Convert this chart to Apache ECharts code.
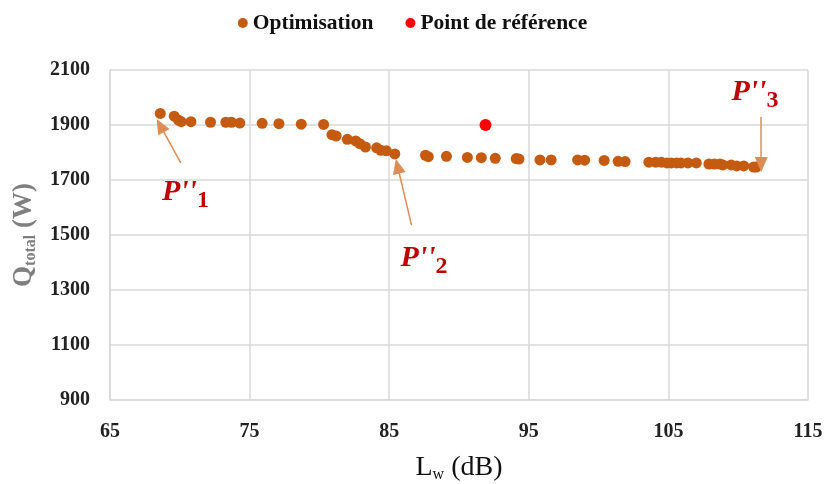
<!DOCTYPE html>
<html><head><meta charset="utf-8">
<script src="https://cdn.jsdelivr.net/npm/echarts@6/dist/echarts.min.js"></script>
<style>html,body{margin:0;padding:0;background:#fff}#c{width:825px;height:484px}</style>
</head><body><div id="c"></div>
<script>
const optLw = [68.6, 69.6, 69.9, 70.1, 70.8, 72.2, 73.3, 73.7, 74.3, 75.9, 77.1, 78.7, 80.3,
  80.9, 81.2, 82.0, 82.6, 82.9, 83.3, 84.1, 84.4, 84.8, 85.4, 87.6, 87.8, 89.1, 90.6, 91.6, 92.6,
  94.1, 94.3, 95.8, 96.6, 98.5, 99.0, 100.4, 101.4, 101.9,
  103.6, 104.1, 104.5, 104.9, 105.2, 105.6, 105.9, 106.4, 107.0, 107.9, 108.3, 108.7, 108.9,
  109.5, 109.9, 110.4, 111.1, 111.3];
const optQ = [1942, 1932, 1918, 1912, 1912, 1910, 1910, 1910, 1907, 1906, 1905, 1903, 1902,
  1865, 1860, 1848, 1842, 1832, 1820, 1817, 1808, 1806, 1795, 1790, 1785, 1786, 1782, 1781, 1779,
  1778, 1776, 1773, 1773, 1773, 1772, 1771, 1768, 1767,
  1765, 1765, 1765, 1762, 1762, 1762, 1762, 1762, 1762, 1758, 1758, 1758, 1755,
  1755, 1751, 1751, 1747, 1747];
const refLw = [91.9];
const refQ = [1900];
const xTicks = [65, 75, 85, 95, 105, 115];
const yTicks = [900, 1100, 1300, 1500, 1700, 1900, 2100];
const annLabels = ["1", "2", "3"];
const annText = [[70.4, 1655], [87.5, 1415], [111.2, 2020]];
const annArrowFrom = [[70.07, 1762], [86.6, 1536], [111.65, 1929]];
const annArrowTo = [[68.6, 1898], [85.6, 1750], [111.65, 1756]];

const serif = "'Liberation Serif', 'DejaVu Serif', serif";
const chart = echarts.init(document.getElementById('c'));
const richLab = {
  p: {fontFamily: serif, fontSize: 30, fontWeight: 'bold', fontStyle: 'italic', color: '#c00000'},
  s: {fontFamily: serif, fontSize: 24, fontWeight: 'bold', color: '#c00000', padding: [17, 0, 0, 0]}
};
chart.setOption({
  animation: false,
  grid: {left: 110, right: 17, top: 70, bottom: 84, containLabel: false, outerBoundsMode: 'none'},
  legend: {
    top: 7, left: 'center', itemGap: 32, itemWidth: 10, itemHeight: 10,
    textStyle: {fontFamily: serif, fontSize: 21.5, fontWeight: 'bold', color: '#111'},
    data: [{name: 'Optimisation', icon: 'circle'}, {name: 'Point de référence', icon: 'circle'}]
  },
  xAxis: {
    type: 'value', min: xTicks[0], max: xTicks[xTicks.length - 1], interval: 10,
    name: '{a|L}{s|w}{a| (dB)}', nameLocation: 'middle', nameGap: 53,
    nameTextStyle: {rich: {
      a: {fontFamily: serif, fontSize: 28, color: '#111'},
      s: {fontFamily: serif, fontSize: 16, color: '#111', padding: [14, 0, 0, 0]}
    }},
    axisLine: {lineStyle: {color: '#d9d9d9', width: 1.5}},
    axisTick: {show: false},
    splitLine: {lineStyle: {color: '#d9d9d9', width: 1.5}},
    axisLabel: {fontFamily: serif, fontSize: 20, fontWeight: 'bold', color: '#222', margin: 22}
  },
  yAxis: {
    type: 'value', min: yTicks[0], max: yTicks[yTicks.length - 1], interval: 200,
    name: '{a|Q}{s|total}{a| (W)}', nameLocation: 'middle', nameGap: 70,
    nameTextStyle: {rich: {
      a: {fontFamily: serif, fontSize: 27, fontWeight: 'bold', color: '#7f7f7f'},
      s: {fontFamily: serif, fontSize: 16, fontWeight: 'bold', color: '#7f7f7f', padding: [14, 0, 0, 0]}
    }},
    axisLine: {show: true, lineStyle: {color: '#d9d9d9', width: 1.5}},
    axisTick: {show: false},
    splitLine: {lineStyle: {color: '#d9d9d9', width: 1.5}},
    axisLabel: {fontFamily: serif, fontSize: 20, fontWeight: 'bold', color: '#222', margin: 20,
      formatter: v => String(v)}
  },
  series: [
    {
      name: 'Optimisation', type: 'scatter', symbolSize: 11,
      itemStyle: {color: '#c55a11', opacity: 1},
      data: optLw.map((x, i) => [x, optQ[i]]), z: 3
    },
    {
      name: 'Point de référence', type: 'scatter', symbolSize: 12,
      itemStyle: {color: '#ff0000', opacity: 1},
      data: refLw.map((x, i) => [x, refQ[i]]), z: 3
    },
    {
      name: 'annotations', type: 'scatter', data: [], silent: true,
      markLine: {
        silent: true, symbol: ['none', 'triangle'], symbolSize: [13, 15], animation: false,
        lineStyle: {color: '#dc8c55', width: 1.5, type: 'solid'},
        label: {show: false},
        data: annArrowFrom.map((f, i) => [{coord: f}, {coord: annArrowTo[i]}])
      },
      markPoint: {
        silent: true, symbol: 'circle', symbolSize: 0,
        label: {show: true, position: 'inside', rich: richLab,
          formatter: p => "{p|P''}{s|" + p.name + "}"},
        data: annText.map((c, i) => ({name: annLabels[i], coord: c}))
      }
    }
  ]
});
</script></body></html>
